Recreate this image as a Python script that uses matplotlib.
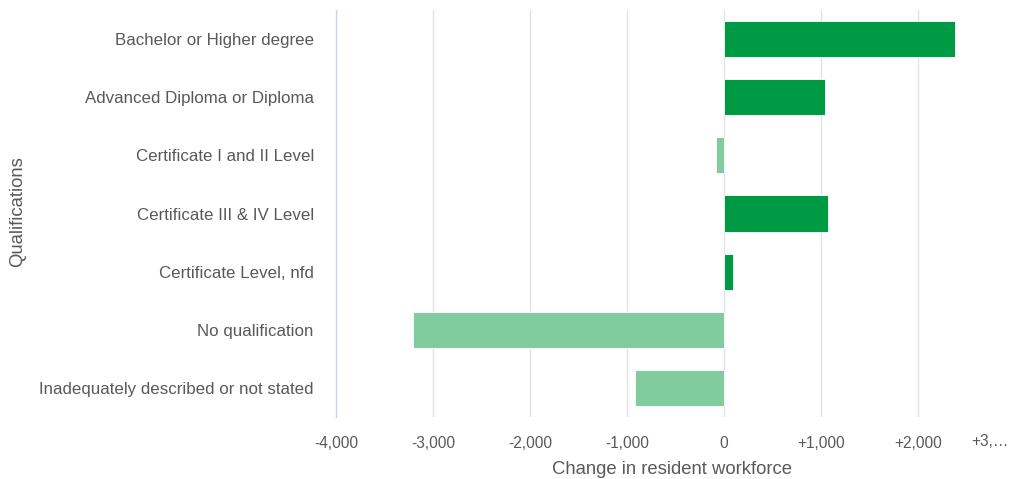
import matplotlib.pyplot as plt

categories = ["Bachelor or Higher degree", "Advanced Diploma or Diploma",
              "Certificate I and II Level", "Certificate III & IV Level",
              "Certificate Level, nfd", "No qualification",
              "Inadequately described or not stated"]
changes = [2380, 1040, -80, 1070, 95, -3205, -915]
ticks = [-4000, -3000, -2000, -1000, 0, 1000, 2000]
tick_labels = ["-4,000", "-3,000", "-2,000", "-1,000", "0", "+1,000", "+2,000"]

plt.rcParams['font.family'] = ['Liberation Sans', 'DejaVu Sans']
text_col = "#595959"

fig = plt.figure(figsize=(10.09, 4.79), dpi=100)
ax = fig.add_axes([336 / 1009, 1 - 417 / 479, 1 - 336 / 1009, 407 / 479])

colors = ["#009a44" if v >= 0 else "#80cc9f" for v in changes]
ypos = list(range(len(categories)))
ax.barh(ypos, changes, height=0.62, color=colors, edgecolor="white", linewidth=0.6, zorder=3)

ax.set_xlim(-4000, 2940)
ax.set_ylim(len(categories) - 0.5, -0.5)
ax.set_yticks(ypos)
ax.set_yticklabels(categories, fontsize=12.2, color=text_col)
ax.set_xticks(ticks)
ax.set_xticklabels(tick_labels, fontsize=11.2, color=text_col)
ax.tick_params(length=0, pad=16, axis='y')
ax.tick_params(length=0, pad=14, axis='x')
ax.text(990 / 1009, 1 - 442 / 479, "+3,\u2026", transform=fig.transFigure,
        ha="center", va="center", fontsize=11.2, color=text_col)

ax.grid(axis='x', color="#e3e3e3", linewidth=1, zorder=0)
for s in ["top", "right", "bottom"]:
    ax.spines[s].set_visible(False)
ax.spines["left"].set_color("#c9d5f2")
ax.spines["left"].set_linewidth(1)

ax.set_xlabel("Change in resident workforce", fontsize=13.3, color=text_col, labelpad=7)
fig.text(18 / 1009, 1 - 212 / 479, "Qualifications", rotation=90, ha="center", va="center",
         fontsize=13.3, color=text_col)

fig.savefig("out.png", dpi=100)
